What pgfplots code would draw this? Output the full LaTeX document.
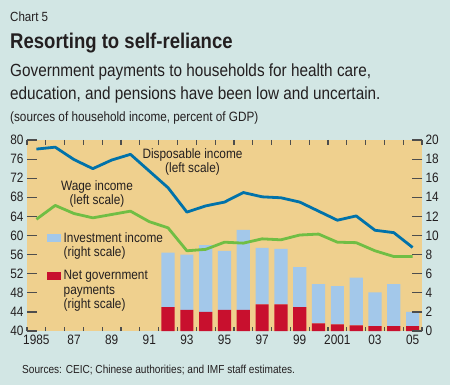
\documentclass[border=0pt]{standalone}
\usepackage{pgfplots}
\pgfplotsset{compat=1.18}
\usepackage{fontspec}
\setmainfont{Liberation Sans}[FakeStretch=0.87]
\definecolor{bgteal}{HTML}{D2E6E4}
\definecolor{plottan}{HTML}{EFD08E}
\definecolor{dispblue}{HTML}{0072AA}
\definecolor{wagegreen}{HTML}{70BE44}
\definecolor{invblue}{HTML}{A3C8EA}
\definecolor{netred}{HTML}{C8102E}
\definecolor{tickgray}{HTML}{4D4D4D}
\definecolor{txt}{HTML}{231F20}
\newcommand{\lbl}{\fontsize{13.6bp}{14bp}\selectfont}
\begin{document}
\begin{tikzpicture}[x=1bp,y=1bp]
\fill[bgteal] (0,0) rectangle (450,385);
% bars, right scale
\begin{axis}[at={(27bp,54bp)}, anchor=south west, width=395bp, height=191bp, scale only axis,
  xmin=1984.5, xmax=2005.5, ymin=0, ymax=20,
  axis background/.style={fill=plottan},
  axis line style={draw=none},
  ybar stacked, bar width=0.7,
  ytick={0,2,...,20}, yticklabel pos=right,
  tick align=inside, major tick length=10bp,
  ytick style={draw=tickgray, line width=1.2bp},
  xtick={1985,1987,...,2005},
  xticklabels={1985,87,89,91,93,95,97,99,2001,03,05},
  xtick style={draw=none},
  tick label style={font=\lbl, text=txt},
  /pgf/number format/assume math mode=true,
  clip=false]
\addplot[fill=netred, draw=none] coordinates {
(1992,2.5) (1993,2.2) (1994,2.0) (1995,2.2) (1996,2.2) (1997,2.8) (1998,2.8)
(1999,2.5) (2000,0.8) (2001,0.7) (2002,0.6) (2003,0.5) (2004,0.5) (2005,0.5)};
\addplot[fill=invblue, draw=none] coordinates {
(1992,5.7) (1993,5.8) (1994,7.0) (1995,6.2) (1996,8.4) (1997,5.9) (1998,5.8)
(1999,4.2) (2000,4.1) (2001,4.0) (2002,5.0) (2003,3.55) (2004,4.4) (2005,1.5)};
\end{axis}
% x boundary ticks
\begin{axis}[at={(27bp,54bp)}, anchor=south west, width=395bp, height=191bp, scale only axis,
  xmin=1984.5, xmax=2005.5, ymin=0, ymax=1,
  axis line style={draw=none}, ytick=\empty,
  xtick={1984.5,1985.5,1986.5,1987.5,1988.5,1989.5,1990.5,1991.5,1992.5,1993.5,1994.5,1995.5,1996.5,1997.5,1998.5,1999.5,2000.5,2001.5,2002.5,2003.5,2004.5,2005.5},
  xticklabels={}, tick align=inside, major tick length=4.5bp,
  xtick style={draw=tickgray, line width=1.2bp}]
\end{axis}
% lines, left scale
\begin{axis}[at={(27bp,54bp)}, anchor=south west, width=395bp, height=191bp, scale only axis,
  xmin=1984.5, xmax=2005.5, ymin=40, ymax=80,
  axis line style={draw=none}, xtick=\empty,
  ytick={40,44,...,80}, yticklabel pos=left,
  tick align=inside, major tick length=10bp,
  ytick style={draw=tickgray, line width=1.2bp},
  tick label style={font=\lbl, text=txt},
  /pgf/number format/assume math mode=true]
\addplot[wagegreen, line width=2.8bp, line join=round, mark=none] coordinates {
(1985,63.4) (1986,66.3) (1987,64.6) (1988,63.7) (1989,64.4) (1990,65.1) (1991,62.9)
(1992,61.6) (1993,56.8) (1994,57.1) (1995,58.6) (1996,58.4) (1997,59.3) (1998,59.1)
(1999,60.1) (2000,60.3) (2001,58.6) (2002,58.5) (2003,56.8) (2004,55.6) (2005,55.6)};
\addplot[dispblue, line width=2.8bp, line join=round, mark=none] coordinates {
(1985,78.1) (1986,78.5) (1987,75.9) (1988,74.0) (1989,75.8) (1990,77.0) (1991,73.5)
(1992,70.0) (1993,64.9) (1994,66.2) (1995,67.0) (1996,69.0) (1997,68.1) (1998,67.9)
(1999,67.0) (2000,65.1) (2001,63.2) (2002,64.1) (2003,61.1) (2004,60.6) (2005,57.5)};
\end{axis}
% annotations
\node[align=center, inner sep=0, text=txt, font=\lbl] at (192.5,223) {Disposable income\\[0.3bp](left scale)};
\node[align=center, inner sep=0, text=txt, font=\lbl] at (97,191) {Wage income\\[0.3bp](left scale)};
\fill[invblue] (47,143) rectangle (61,151);
\node[align=left, anchor=west, inner sep=0, text=txt, font=\lbl] at (63.5,139) {Investment income\\[0.3bp](right scale)};
\fill[netred] (47,105) rectangle (61,113);
\node[align=left, anchor=west, inner sep=0, text=txt, font=\lbl] at (63.5,94) {Net government\\[0.3bp]payments\\[0.3bp](right scale)};
% titles
\node[anchor=base west, inner sep=0, text=txt] at (10,364) {\fontsize{13.3bp}{16bp}\selectfont Chart 5};
\node[anchor=base west, inner sep=0, text=txt] at (10,336.7) {\fontsize{21.3bp}{24bp}\selectfont\bfseries Resorting to self-reliance};
\node[anchor=base west, inner sep=0, text=txt] at (10,309) {\fontsize{17.6bp}{20bp}\selectfont Government payments to households for health care,};
\node[anchor=base west, inner sep=0, text=txt] at (10,286) {\fontsize{17.6bp}{20bp}\selectfont education, and pensions have been low and uncertain.};
\node[anchor=base west, inner sep=0, text=txt] at (10,264) {\fontsize{13.5bp}{16bp}\selectfont (sources of household income, percent of GDP)};
\node[anchor=base west, inner sep=0, text=txt] at (22,12) {\fontsize{11.6bp}{14bp}\selectfont Sources: CEIC; Chinese authorities; and IMF staff estimates.};
\end{tikzpicture}
\end{document}
